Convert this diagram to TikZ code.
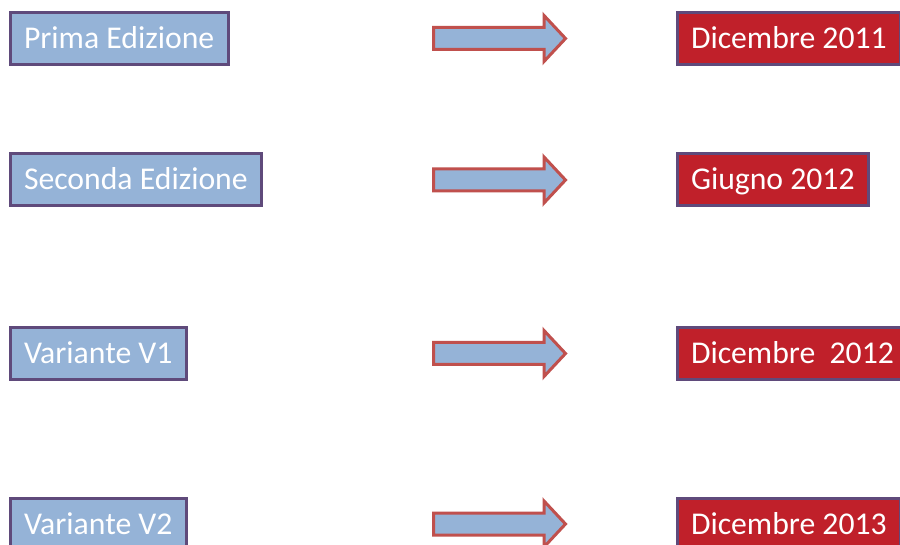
\documentclass[tikz,border=0pt]{standalone}
\usepackage{fontspec}
\setmainfont{Carlito}
\definecolor{boxblue}{HTML}{95B3D7}
\definecolor{boxpurple}{HTML}{5F4A7B}
\definecolor{boxred}{HTML}{C0202A}
\definecolor{arrowred}{HTML}{C0504D}
\tikzset{
  edbox/.style={draw=boxpurple, line width=3pt, fill=boxblue, text=white,
    anchor=west, inner xsep=14pt, inner ysep=0pt, minimum height=52pt,
    text height=21.5pt, text depth=1.5pt,
    font=\fontsize{31.7}{32}\selectfont},
  datebox/.style={edbox, fill=boxred},
  bigarrow/.style={draw=arrowred, line width=3pt, fill=boxblue, line join=miter}
}
\begin{document}
\begin{tikzpicture}[x=1pt,y=-1pt]
\clip (0,0) rectangle (900,545);
\fill[white] (0,0) rectangle (900,545);
\foreach \n/\y/\l/\r in {a/38.5/Prima Edizione/Dicembre 2011,
                         b/180/Seconda Edizione/Giugno 2012,
                         c/353.5/Variante V1/Dicembre\ \ 2012,
                         d/524/Variante V2/Dicembre 2013}{
  \node[edbox] (L\n) at (8.5,\y) {\l};
  \node[datebox] (R\n) at (675.5,\y) {\r};
  \coordinate (A\n) at (433.5,\y);
  \draw[bigarrow] (A\n) ++(0,-11) -- ++(110.5,0) -- ++(0,-12) -- ++(21.5,23)
     -- ++(-21.5,23) -- ++(0,-12) -- ++(-110.5,0) -- cycle;
}
\end{tikzpicture}
\end{document}
